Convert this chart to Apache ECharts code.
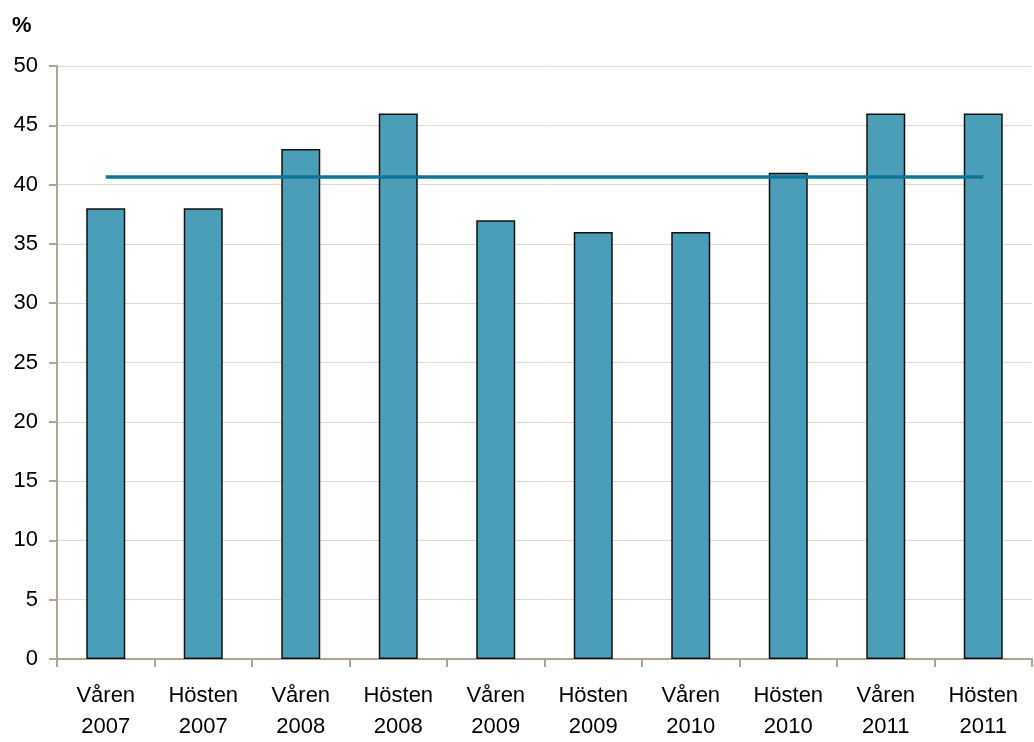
<!DOCTYPE html>
<html><head><meta charset="utf-8">
<script src="https://cdn.jsdelivr.net/npm/echarts@6/dist/echarts.min.js"></script>
<style>html,body{margin:0;padding:0;background:#fff}#c{width:1034px;height:742px}</style>
</head><body><div id="c"></div>
<script>
const categories = ['Våren\n2007','Hösten\n2007','Våren\n2008','Hösten\n2008','Våren\n2009','Hösten\n2009','Våren\n2010','Hösten\n2010','Våren\n2011','Hösten\n2011'];
const values = [38,38,43,46,37,36,36,41,46,46];
const averageValue = 40.7;
const yTicks = {min:0, max:50, interval:5};

const chart = echarts.init(document.getElementById('c'));
chart.setOption({
  animation:false,
  textStyle:{fontFamily:'Liberation Sans, Arial, sans-serif'},
  grid:{left:57,right:2,top:66,bottom:81,containLabel:false},
  graphic:[{type:'text',left:12,top:15,style:{text:'%',font:'bold 22px Liberation Sans, Arial, sans-serif',fill:'#000'}}],
  xAxis:{
    type:'category',data:categories,boundaryGap:true,
    axisLine:{lineStyle:{color:'#ADA496',width:2}},
    axisTick:{show:true,length:8,lineStyle:{color:'#ADA496',width:2},alignWithLabel:false},
    axisLabel:{color:'#000',fontSize:22,lineHeight:31,margin:21,interval:0}
  },
  yAxis:{
    type:'value',min:yTicks.min,max:yTicks.max,interval:yTicks.interval,
    axisLine:{show:true,lineStyle:{color:'#ADA496',width:2}},
    axisTick:{show:true,length:8,lineStyle:{color:'#ADA496',width:2}},
    axisLabel:{color:'#000',fontSize:22,margin:19},
    splitLine:{lineStyle:{color:'#DCD9CF',width:1}}
  },
  series:[{
    type:'bar',data:values,barWidth:'40%',
    itemStyle:{color:'#4A9EB8',borderColor:'#111',borderWidth:1.5},
    markLine:{
      silent:true,symbol:'none',label:{show:false},
      lineStyle:{color:'#0E7596',width:3.5,type:'solid'},
      data:[[{coord:[0,averageValue]},{coord:[values.length-1,averageValue]}]]
    }
  }]
});
</script></body></html>
